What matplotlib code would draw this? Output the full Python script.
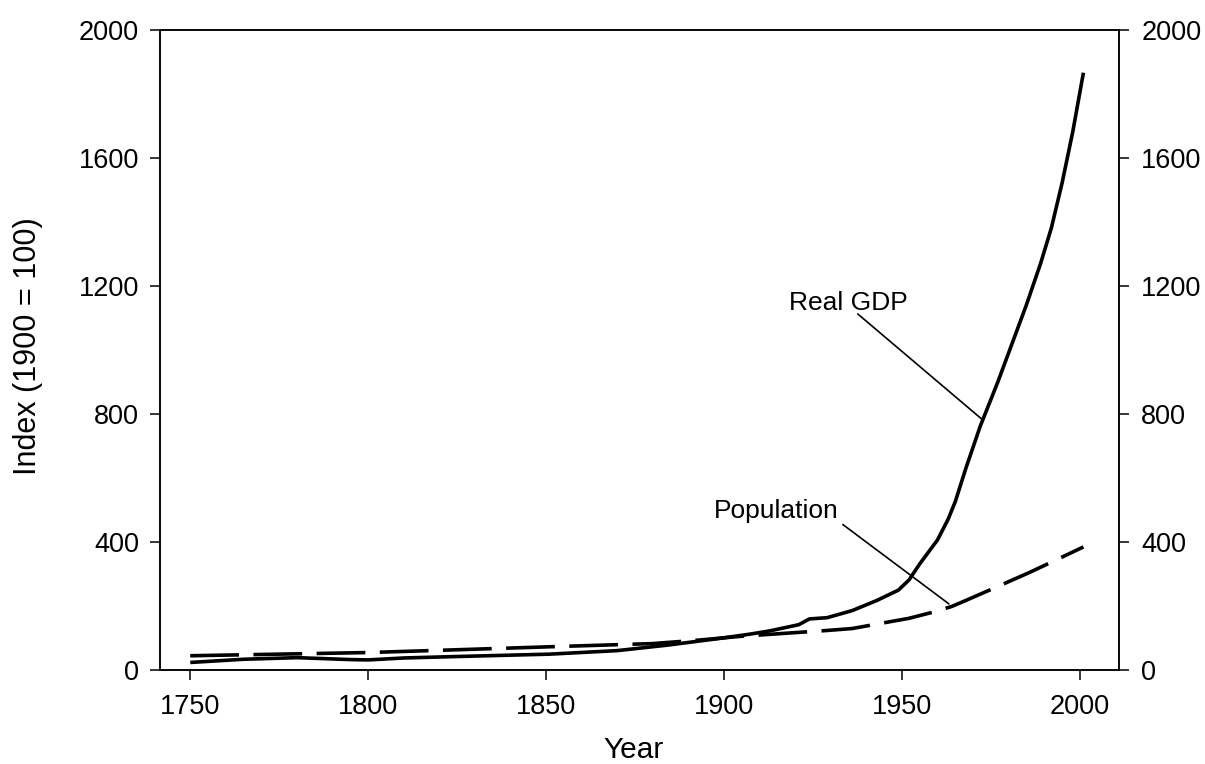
import numpy as np
import matplotlib
matplotlib.use("Agg")
import matplotlib.pyplot as plt

plt.rcParams['font.family'] = ['Liberation Sans', 'DejaVu Sans']

# values (index, 1900 = 100)
gdp_years = [1750, 1765, 1780, 1795, 1800, 1810, 1823, 1851, 1870, 1884, 1898, 1907, 1913,
             1921, 1924, 1929, 1936, 1943, 1949, 1952, 1955, 1958, 1960, 1963, 1965, 1968,
             1972, 1977, 1981, 1985, 1989, 1992, 1995, 1998, 2001]
gdp_index = [22, 32, 37, 31, 30, 36, 40, 48, 59, 76, 96, 110, 121,
             140, 158, 162, 184, 216, 248, 280, 330, 375, 405, 470, 525, 630,
             760, 900, 1020, 1140, 1270, 1380, 1520, 1680, 1865]

pop_years = [1750, 1775, 1800, 1823, 1851, 1880, 1893, 1905, 1929, 1936, 1946, 1952,
             1959, 1964, 1968, 1975, 1986, 1994, 2001]
pop_index = [43, 48, 53, 61, 71, 81, 92, 104, 122, 128, 148, 160,
             180, 197, 216, 250, 304, 346, 383]

x_ticks = [1750, 1800, 1850, 1900, 1950, 2000]
y_ticks = [0, 400, 800, 1200, 1600, 2000]

# label text position and the point its leader line points to
gdp_label = ("Real GDP", (1918.2, 1125), (1972.7, 780))
pop_label = ("Population", (1897.1, 472), (1963.2, 205))

fig = plt.figure(figsize=(12.05, 7.64), dpi=100)
ax = fig.add_axes([160 / 1205, 1 - 669.5 / 764, 959 / 1205, 640 / 764])

ax.plot(gdp_years, gdp_index, color='black', lw=2.6, solid_capstyle='butt')
ax.plot(pop_years, pop_index, color='black', lw=2.6, dashes=(13.5, 4))

ax.set_xlim(1741.5, 2011)
ax.set_ylim(0, 2000)
ax.set_xticks(x_ticks)
ax.set_yticks(y_ticks)

for name, (tx, ty), (px, py) in [gdp_label, pop_label]:
    ax.text(tx, ty, name, fontsize=19, ha='left', va='baseline')

ax.annotate("", xy=gdp_label[2], xytext=(1937.6, 1111),
            arrowprops=dict(arrowstyle='-', lw=1.2, color='black', shrinkA=0, shrinkB=0))
ax.annotate("", xy=pop_label[2], xytext=(1933.4, 453),
            arrowprops=dict(arrowstyle='-', lw=1.2, color='black', shrinkA=0, shrinkB=0))

ax2 = ax.twinx()
ax2.set_ylim(0, 2000)
ax2.set_yticks(y_ticks)

for a in (ax, ax2):
    for s in a.spines.values():
        s.set_linewidth(1.1)
ax.tick_params(axis='y', direction='out', length=7, width=1.1, labelsize=19.5, pad=8, right=False)
ax.tick_params(axis='x', direction='out', length=7, width=1.1, labelsize=19.5, pad=11, top=False)
ax2.tick_params(axis='y', direction='out', length=7, width=1.1, labelsize=19.5, pad=9)

ax.set_ylabel("Index (1900 = 100)", fontsize=22, va='center')
ax.yaxis.set_label_coords(-0.1376, 0.505)
ax.set_xlabel("Year", fontsize=21.5, va='top')
ax.xaxis.set_label_coords(0.494, -0.104)

fig.savefig("out.png", dpi=100)
